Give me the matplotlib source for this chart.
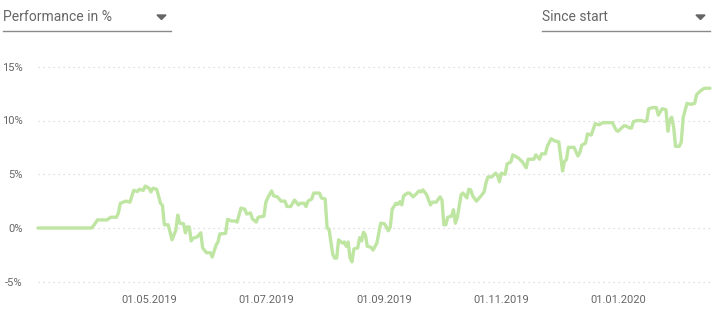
import matplotlib
matplotlib.use("Agg")
import matplotlib.pyplot as plt
import matplotlib.dates as mdates
from matplotlib.lines import Line2D
from matplotlib.patches import Polygon
from matplotlib.ticker import FuncFormatter
import pandas as pd

plt.rcParams['font.family'] = ['Roboto', 'DejaVu Sans']

dates = [
    "2019-03-04", "2019-04-01", "2019-04-03", "2019-04-04", "2019-04-09", "2019-04-11",
    "2019-04-14", "2019-04-15", "2019-04-16", "2019-04-19", "2019-04-21", "2019-04-23",
    "2019-04-25", "2019-04-26", "2019-04-28", "2019-04-29", "2019-05-01", "2019-05-02",
    "2019-05-03", "2019-05-05", "2019-05-07", "2019-05-08", "2019-05-09", "2019-05-11",
    "2019-05-13", "2019-05-15", "2019-05-16", "2019-05-17", "2019-05-19", "2019-05-20",
    "2019-05-21", "2019-05-22", "2019-05-23", "2019-05-24", "2019-05-26", "2019-05-28",
    "2019-05-29", "2019-05-31", "2019-06-02", "2019-06-03", "2019-06-05", "2019-06-06",
    "2019-06-07", "2019-06-10", "2019-06-11", "2019-06-12", "2019-06-13", "2019-06-15",
    "2019-06-16", "2019-06-18", "2019-06-20", "2019-06-21", "2019-06-23", "2019-06-24",
    "2019-06-26", "2019-06-27", "2019-06-30", "2019-07-01", "2019-07-02", "2019-07-04",
    "2019-07-05", "2019-07-07", "2019-07-09", "2019-07-11", "2019-07-12", "2019-07-14",
    "2019-07-15", "2019-07-16", "2019-07-18", "2019-07-19", "2019-07-21", "2019-07-22",
    "2019-07-23", "2019-07-25", "2019-07-26", "2019-07-27", "2019-07-29", "2019-07-30",
    "2019-08-01", "2019-08-02", "2019-08-03", "2019-08-05", "2019-08-06", "2019-08-07",
    "2019-08-08", "2019-08-10", "2019-08-11", "2019-08-12", "2019-08-13", "2019-08-14",
    "2019-08-15", "2019-08-16", "2019-08-18", "2019-08-19", "2019-08-20", "2019-08-21",
    "2019-08-22", "2019-08-23", "2019-08-25", "2019-08-26", "2019-08-28", "2019-08-29",
    "2019-08-30", "2019-09-01", "2019-09-03", "2019-09-04", "2019-09-05", "2019-09-07",
    "2019-09-08", "2019-09-09", "2019-09-10", "2019-09-11", "2019-09-13", "2019-09-14",
    "2019-09-16", "2019-09-18", "2019-09-19", "2019-09-20", "2019-09-21", "2019-09-23",
    "2019-09-25", "2019-09-26", "2019-09-28", "2019-09-30", "2019-10-01", "2019-10-02",
    "2019-10-03", "2019-10-04", "2019-10-06", "2019-10-07", "2019-10-08", "2019-10-09",
    "2019-10-11", "2019-10-12", "2019-10-14", "2019-10-15", "2019-10-16", "2019-10-17",
    "2019-10-19", "2019-10-21", "2019-10-23", "2019-10-24", "2019-10-25", "2019-10-27",
    "2019-10-29", "2019-10-30", "2019-10-31", "2019-11-01", "2019-11-03", "2019-11-04",
    "2019-11-06", "2019-11-07", "2019-11-09", "2019-11-10", "2019-11-12", "2019-11-14",
    "2019-11-15", "2019-11-18", "2019-11-19", "2019-11-21", "2019-11-22", "2019-11-24",
    "2019-11-25", "2019-11-27", "2019-11-29", "2019-12-01", "2019-12-03", "2019-12-04",
    "2019-12-05", "2019-12-06", "2019-12-09", "2019-12-11", "2019-12-12", "2019-12-13",
    "2019-12-15", "2019-12-16", "2019-12-18", "2019-12-20", "2019-12-22", "2019-12-24",
    "2019-12-25", "2019-12-29", "2019-12-31", "2020-01-01", "2020-01-04", "2020-01-05",
    "2020-01-07", "2020-01-08", "2020-01-09", "2020-01-11", "2020-01-13", "2020-01-15",
    "2020-01-16", "2020-01-17", "2020-01-19", "2020-01-21", "2020-01-22", "2020-01-24",
    "2020-01-26", "2020-01-27", "2020-01-28", "2020-01-29", "2020-01-30", "2020-01-31",
    "2020-02-02", "2020-02-03", "2020-02-04", "2020-02-06", "2020-02-08", "2020-02-10",
    "2020-02-11", "2020-02-13", "2020-02-15", "2020-02-18",
]

performance = [
    0.0, 0.0, 0.45, 0.75, 0.75, 1.0,
    1.0, 1.4, 2.3, 2.5, 2.4, 3.5,
    3.4, 3.6, 3.5, 3.9, 3.7, 3.35,
    3.7, 3.6, 2.3, 2.1, 0.3, 0.3,
    -1.1, -0.2, 1.2, 0.45, 0.4, -0.45,
    0.1, 0.1, -1.2, -0.95, -0.85, -0.45,
    -1.85, -2.3, -2.3, -2.7, -1.6, -1.3,
    -0.55, -0.5, 0.8, 0.75, 0.65, 0.65,
    0.55, 1.85, 1.75, 1.3, 1.4, 0.85,
    0.55, 1.0, 1.1, 2.4, 2.8, 3.45,
    3.0, 2.9, 2.5, 2.5, 2.0, 2.0,
    2.3, 2.6, 2.15, 2.3, 2.3, 2.0,
    2.5, 2.7, 3.25, 3.25, 3.25, 2.8,
    2.7, 0.0, -0.1, -2.5, -2.8, -2.8,
    -1.1, -1.4, -1.3, -1.7, -1.3, -2.8,
    -3.15, -1.95, -1.85, -0.9, -1.2, -0.4,
    -0.65, -1.7, -1.8, -2.05, -1.4, -0.45,
    0.45, 0.4, -0.25, 0.1, 1.75, 2.3,
    2.2, 2.45, 2.15, 3.0, 3.25, 3.25,
    2.9, 3.25, 3.45, 3.35, 3.55, 3.1,
    2.15, 2.4, 2.4, 2.9, 2.6, 0.3,
    0.3, 1.0, 1.1, 1.7, 0.45, 0.95,
    3.1, 3.25, 2.8, 3.6, 3.55, 3.0,
    2.5, 2.9, 3.35, 4.2, 4.75, 4.75,
    5.1, 4.9, 4.3, 5.1, 5.0, 5.95,
    6.15, 6.8, 6.6, 6.5, 6.15, 5.6,
    6.4, 6.4, 6.8, 6.4, 6.9, 6.9,
    7.6, 8.3, 8.1, 8.0, 5.3, 6.2,
    6.35, 7.5, 7.5, 6.7, 7.0, 7.7,
    7.9, 8.75, 8.65, 9.7, 9.6, 9.8,
    9.8, 9.8, 9.1, 9.0, 9.5, 9.5,
    9.3, 9.3, 9.9, 10.0, 10.0, 9.9,
    10.0, 11.1, 11.2, 11.2, 10.5, 11.1,
    11.0, 9.0, 10.05, 10.3, 9.4, 7.6,
    7.6, 8.0, 10.3, 11.6, 11.5, 11.6,
    12.4, 12.75, 13.0, 13.0,
]

y_ticks = [-5, 0, 5, 10, 15]
x_ticks = ["2019-05-01", "2019-07-01", "2019-09-01", "2019-11-01", "2020-01-01"]
metric_label = "Performance in %"
period_label = "Since start"

W, H = 724, 313
fig = plt.figure(figsize=(W / 100, H / 100), dpi=100)

def fx(px):
    return px / W

def fy(py):
    return 1 - py / H

x = pd.to_datetime(dates)
ymin, ymax = -5.5, 15.5
top_px = 228 - 10.75 * ymax
bot_px = 228 - 10.75 * ymin
ax = fig.add_axes([fx(38), fy(bot_px), fx(710) - fx(38), fy(top_px) - fy(bot_px)])

ax.plot(x, performance, color='#bfe5a3', lw=2.4, solid_joinstyle='round',
        solid_capstyle='round', zorder=3, clip_on=False)

ax.set_xlim(x[0], x[-1])
ax.set_ylim(ymin, ymax)
ax.set_yticks(y_ticks)
ax.yaxis.set_major_formatter(FuncFormatter(lambda v, p: f"{v:.0f}%"))
ax.set_xticks(pd.to_datetime(x_ticks))
ax.xaxis.set_major_formatter(mdates.DateFormatter("%d.%m.%Y"))

for s in ax.spines.values():
    s.set_visible(False)
ax.tick_params(axis='both', length=0, labelsize=8, labelcolor='#666666')
ax.tick_params(axis='y', pad=11)
ax.tick_params(axis='x', pad=6)
ax.grid(axis='y', color='#d6d6d6', lw=0.9, linestyle=(0, (1, 3)))
ax.set_axisbelow(True)

# Header controls
fig.text(fx(3), fy(17), metric_label, fontsize=10, color='#666666', va='center', ha='left')
fig.add_artist(Line2D([fx(3), fx(171)], [fy(30.5), fy(30.5)], color='#8a8a8a', lw=1))
fig.add_artist(Polygon([[fx(157), fy(15)], [fx(166), fy(15)], [fx(161.5), fy(19.5)]],
                       closed=True, color='#666666', transform=fig.transFigure))

fig.text(fx(542), fy(17), period_label, fontsize=10, color='#666666', va='center', ha='left')
fig.add_artist(Line2D([fx(542), fx(710)], [fy(30.5), fy(30.5)], color='#8a8a8a', lw=1))
fig.add_artist(Polygon([[fx(696), fy(15)], [fx(705), fy(15)], [fx(700.5), fy(19.5)]],
                       closed=True, color='#666666', transform=fig.transFigure))

fig.savefig("out.png", dpi=100)
